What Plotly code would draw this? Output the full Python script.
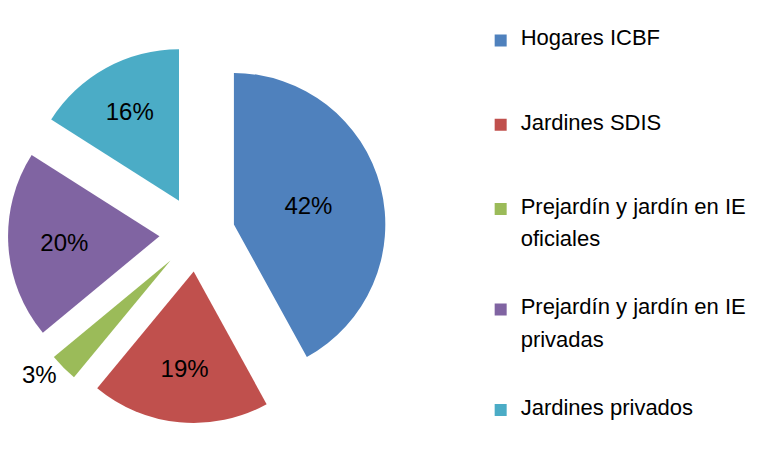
import plotly.graph_objects as go

categories = ["Hogares ICBF", "Jardines SDIS", "Prejardín y jardín en IE oficiales",
              "Prejardín y jardín en IE privadas", "Jardines privados"]
legend_lines = [["Hogares ICBF"], ["Jardines SDIS"],
                ["Prejardín y jardín en IE", "oficiales"],
                ["Prejardín y jardín en IE", "privadas"], ["Jardines privados"]]
values = [42, 19, 3, 20, 16]
colors = ["#4F81BD", "#C0504D", "#9BBB59", "#8064A2", "#4BACC6"]
text_positions = ["inside", "inside", "outside", "inside", "inside"]
# total number of (small) legend lines each entry occupies, to space entries like the reference
legend_line_counts = [5, 5, 6, 6, 1]

SPAN = '<span style="font-size:22px">{}</span>'


def legend_label(lines, total):
    parts = []
    for i, ln in enumerate(lines):
        if i > 0:
            parts.append(" ")
        parts.append(SPAN.format(ln))
    while len(parts) < total:
        parts.append(" ")
    return "<br>".join(parts)


legend_labels = [legend_label(l, n) for l, n in zip(legend_lines, legend_line_counts)]

fig = go.Figure(go.Pie(
    labels=legend_labels,
    values=values,
    sort=False,
    direction="clockwise",
    rotation=0,
    pull=[0.25] * len(values),
    marker=dict(colors=colors, line=dict(width=0)),
    texttemplate="%{percent:.0%}",
    textposition=text_positions,
    insidetextorientation="horizontal",
    textfont=dict(family="Liberation Sans", size=24, color="#000000"),
    hovertext=categories,
    hoverinfo="text+percent",
    domain=dict(x=[0.0, 0.5], y=[0.072, 0.922]),
))

fig.update_layout(
    width=757, height=449,
    margin=dict(l=0, r=0, t=0, b=0, autoexpand=False),
    paper_bgcolor="white",
    plot_bgcolor="white",
    showlegend=True,
    legend=dict(
        x=0.6244, y=0.96, xanchor="left", yanchor="top",
        valign="top",
        font=dict(family="Liberation Sans", size=12.5, color="#000000"),
        itemwidth=30,
        bgcolor="rgba(0,0,0,0)",
    ),
)

fig.write_html("out.html")
